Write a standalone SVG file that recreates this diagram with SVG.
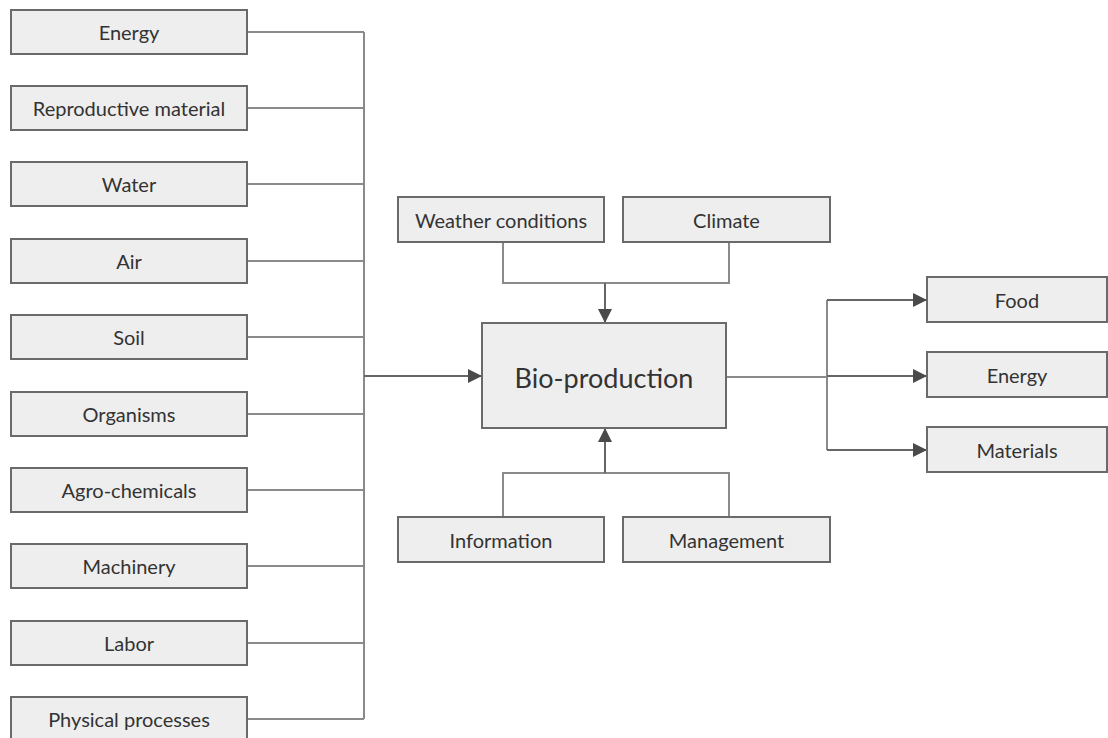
<svg xmlns="http://www.w3.org/2000/svg" width="1108" height="738" viewBox="0 0 1108 738">
<style>
.box{fill:#eeeeee;stroke:#6a6a6a;stroke-width:2}
.t{font-family:Lato,"Open Sans",sans-serif;font-size:20px;fill:#333333;text-anchor:middle;dominant-baseline:central}
.big{font-size:27px}
.ln{fill:none;stroke:#8a8a8a;stroke-width:2}
.ar{fill:none;stroke:#666;stroke-width:2}
</style>
<defs>
<marker id="ah2" viewBox="0 0 10 10" refX="10" refY="5" markerWidth="7" markerHeight="7" orient="auto">
<path d="M0,0 L10,5 L0,10 z" fill="#4a4a4a"/>
</marker>
</defs>
<rect width="1108" height="738" fill="#ffffff"/>
<g id="connectors">
<path class="ln" d="M247,32H364 M247,108H364 M247,184H364 M247,261H364 M247,337H364 M247,414H364 M247,490H364 M247,566H364 M247,643H364 M247,719H364 M364,32V719"/>
<path class="ar" d="M364,376H482" marker-end="url(#ah2)"/>
<path class="ln" d="M503,242V283H729V242"/>
<path class="ar" d="M605,283V323" marker-end="url(#ah2)"/>
<path class="ln" d="M503,517V473H729V517"/>
<path class="ar" d="M605,473V428" marker-end="url(#ah2)"/>
<path class="ln" d="M727,377H827 M827,300V450"/>
<path class="ar" d="M827,300H927" marker-end="url(#ah2)"/>
<path class="ar" d="M827,376H927" marker-end="url(#ah2)"/>
<path class="ar" d="M827,450H927" marker-end="url(#ah2)"/>
</g>
<g id="energy-in"><rect class="box" x="11" y="10" width="236" height="44"/><text class="t" x="129" y="32">Energy</text></g>
<g id="reproductive"><rect class="box" x="11" y="86" width="236" height="44"/><text class="t" x="129" y="108">Reproductive material</text></g>
<g id="water"><rect class="box" x="11" y="162" width="236" height="44"/><text class="t" x="129" y="184">Water</text></g>
<g id="air"><rect class="box" x="11" y="239" width="236" height="44"/><text class="t" x="129" y="261">Air</text></g>
<g id="soil"><rect class="box" x="11" y="315" width="236" height="44"/><text class="t" x="129" y="337">Soil</text></g>
<g id="organisms"><rect class="box" x="11" y="392" width="236" height="44"/><text class="t" x="129" y="414">Organisms</text></g>
<g id="agro"><rect class="box" x="11" y="468" width="236" height="44"/><text class="t" x="129" y="490">Agro-chemicals</text></g>
<g id="machinery"><rect class="box" x="11" y="544" width="236" height="44"/><text class="t" x="129" y="566">Machinery</text></g>
<g id="labor"><rect class="box" x="11" y="621" width="236" height="44"/><text class="t" x="129" y="643">Labor</text></g>
<g id="physical"><rect class="box" x="11" y="697" width="236" height="44"/><text class="t" x="129" y="719">Physical processes</text></g>
<g id="weather"><rect class="box" x="398" y="197" width="206" height="45"/><text class="t" x="501" y="219.5">Weather conditions</text></g>
<g id="climate"><rect class="box" x="623" y="197" width="207" height="45"/><text class="t" x="726.5" y="219.5">Climate</text></g>
<g id="bio"><rect class="box" x="482" y="323" width="244" height="105"/><text class="t big" x="604" y="377">Bio-production</text></g>
<g id="information"><rect class="box" x="398" y="517" width="206" height="45"/><text class="t" x="501" y="539.5">Information</text></g>
<g id="management"><rect class="box" x="623" y="517" width="207" height="45"/><text class="t" x="726.5" y="539.5">Management</text></g>
<g id="food"><rect class="box" x="927" y="277" width="180" height="45"/><text class="t" x="1017" y="299.5">Food</text></g>
<g id="energy-out"><rect class="box" x="927" y="352" width="180" height="45"/><text class="t" x="1017" y="374.5">Energy</text></g>
<g id="materials"><rect class="box" x="927" y="427" width="180" height="45"/><text class="t" x="1017" y="449.5">Materials</text></g>
</svg>
